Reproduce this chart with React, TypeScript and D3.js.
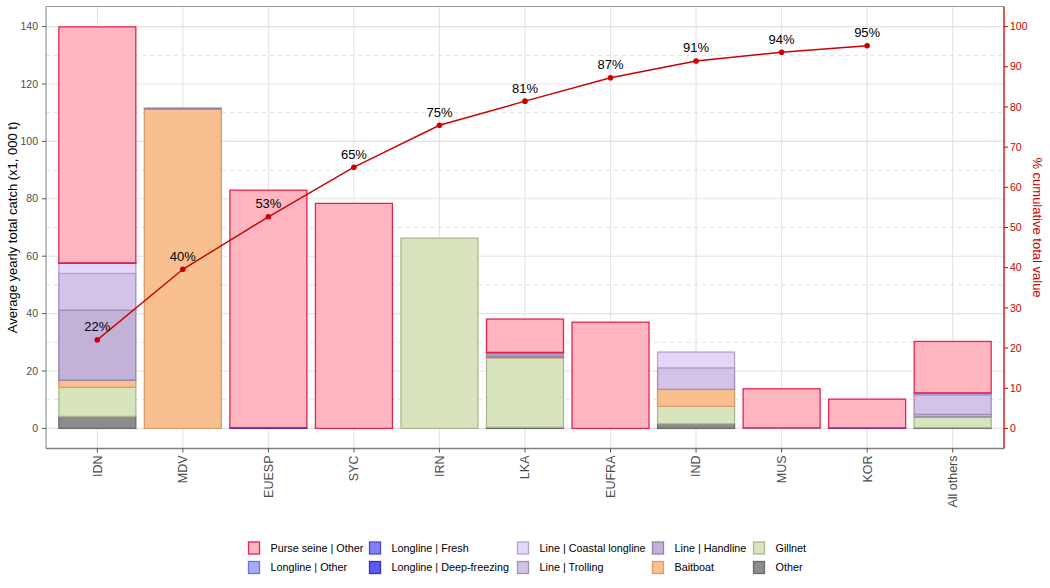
import React from 'react';
import * as d3 from 'd3';

const categories = ['IDN', 'MDV', 'EUESP', 'SYC', 'IRN', 'LKA', 'EUFRA', 'IND', 'MUS', 'KOR', 'All others'];
const gears = [
  'Purse seine | Other',
  'Longline | Other',
  'Longline | Fresh',
  'Longline | Deep-freezing',
  'Line | Coastal longline',
  'Line | Trolling',
  'Line | Handline',
  'Baitboat',
  'Gillnet',
  'Other',
];

// values in x1,000 t per category
const purseSeineOther = [82.2, 0, 82.7, 78.4, 0, 11.6, 37.0, 0, 13.6, 10.0, 17.9];
const longlineOther = [0, 0, 0, 0, 0, 0, 0, 0, 0, 0, 0.3];
const longlineFresh = [0.2, 0, 0, 0, 0, 0.2, 0, 0, 0, 0, 0];
const longlineDeepFreezing = [0, 0, 0.3, 0, 0, 0, 0, 0, 0, 0.2, 0];
const lineCoastalLongline = [3.5, 0, 0, 0, 0, 0.4, 0, 5.5, 0, 0, 0.5];
const lineTrolling = [12.8, 0, 0, 0, 0, 0.6, 0, 7.5, 0, 0, 6.7];
const lineHandline = [24.4, 0.3, 0, 0, 0, 0.5, 0, 0, 0.2, 0, 0.9];
const baitboat = [2.5, 111.3, 0, 0, 0, 0.2, 0, 5.9, 0, 0, 0];
const gillnet = [10.1, 0, 0, 0, 66.3, 24.2, 0, 6.1, 0, 0, 3.7];
const other = [4.2, 0, 0, 0, 0, 0.4, 0, 1.6, 0, 0, 0.3];

const seriesValues = [
  purseSeineOther, longlineOther, longlineFresh, longlineDeepFreezing,
  lineCoastalLongline, lineTrolling, lineHandline, baitboat, gillnet, other,
];

const leftTicks = [0, 20, 40, 60, 80, 100, 120, 140];
const minorTicks = [10, 30, 50, 70, 90, 110, 130];
const rightTicks = [0, 10, 20, 30, 40, 50, 60, 70, 80, 90, 100];

const fills: Record<string, string> = {
  'Purse seine | Other': '#FFB6C1',
  'Longline | Other': '#A6ADFF',
  'Longline | Fresh': '#8181F7',
  'Longline | Deep-freezing': '#5B5BEE',
  'Line | Coastal longline': '#E4D6F7',
  'Line | Trolling': '#D3C3E6',
  'Line | Handline': '#C3B2D8',
  'Baitboat': '#F8C08E',
  'Gillnet': '#D8E4BE',
  'Other': '#8C8C8C',
};
const strokes: Record<string, string> = {
  'Purse seine | Other': '#E2264F',
  'Longline | Other': '#6A72E4',
  'Longline | Fresh': '#4C4CD6',
  'Longline | Deep-freezing': '#3434C0',
  'Line | Coastal longline': '#B3A4CC',
  'Line | Trolling': '#A090BA',
  'Line | Handline': '#9282AA',
  'Baitboat': '#D99D6C',
  'Gillnet': '#A9B98D',
  'Other': '#6A6A6A',
};

const W = 1050;
const H = 588;
const left = 46;
const right = 1004;
const top = 6.5;
const bottom = 448.5;
const FONT = "'Liberation Sans', Arial, Helvetica, sans-serif";
const RED = '#CC0000';

export default function App() {
  const x = d3.scaleLinear().domain([-0.6, categories.length - 1 + 0.6]).range([left, right]);
  const y = d3.scaleLinear().domain([-7, 147]).range([bottom, top]);
  const barW = x(0.9) - x(0);

  const rows = categories.map((c, i) => {
    const o: Record<string, number | string> = { cat: c };
    gears.forEach((g, k) => { o[g] = seriesValues[k][i]; });
    return o;
  });
  const stackKeys = gears.slice().reverse();
  const stacked = d3.stack<any>().keys(stackKeys)(rows as any);

  const totals = categories.map((_, i) => d3.sum(seriesValues, (s) => s[i]));
  const grand = d3.sum(totals);
  const yPct = (p: number) => y(p * 1.4);
  const cum: number[] = [];
  let run = 0;
  for (let i = 0; i < categories.length - 1; i++) {
    run += totals[i];
    cum.push((run / grand) * 100);
  }

  const line = d3.line<number>().x((_, i) => x(i)).y((p) => yPct(p));

  const legendCols = [248, 369, 517, 652, 753];
  const legendRows = [548, 567.5];

  return (
    <div style={{ position: 'absolute', left: 0, top: 0 }}>
      <svg width={W} height={H} style={{ display: 'block', fontFamily: FONT }}>
        <rect x={0} y={0} width={W} height={H} fill="#fff" />
        {/* grid */}
        {minorTicks.map((t) => (
          <line key={'mn' + t} x1={left} x2={right} y1={y(t)} y2={y(t)} stroke="#E0E0E0" strokeWidth={1} strokeDasharray="4,4" />
        ))}
        {leftTicks.map((t) => (
          <line key={'mj' + t} x1={left} x2={right} y1={y(t)} y2={y(t)} stroke="#E3E3E3" strokeWidth={1.1} />
        ))}
        {categories.map((c, i) => (
          <line key={'vg' + c} x1={x(i)} x2={x(i)} y1={top} y2={bottom} stroke="#E3E3E3" strokeWidth={1.1} />
        ))}
        {/* bars */}
        {stacked.map((layer) => (
          <g key={layer.key}>
            {layer.map((d, i) =>
              d[1] - d[0] > 0 ? (
                <rect
                  key={i}
                  x={x(i) - barW / 2}
                  width={barW}
                  y={y(d[1])}
                  height={y(d[0]) - y(d[1])}
                  fill={fills[layer.key]}
                  stroke={strokes[layer.key]}
                  strokeWidth={1.3}
                />
              ) : null
            )}
          </g>
        ))}
        {/* cumulative line */}
        <path d={line(cum) || ''} fill="none" stroke={RED} strokeWidth={1.4} />
        {cum.map((p, i) => (
          <circle key={'pt' + i} cx={x(i)} cy={yPct(p)} r={2.8} fill={RED} />
        ))}
        {cum.map((p, i) => (
          <text key={'lb' + i} x={x(i)} y={yPct(p) - 8.5} textAnchor="middle" fontSize={13} fill="#000">
            {Math.round(p) + '%'}
          </text>
        ))}
        {/* panel border */}
        <line x1={left} x2={right} y1={top} y2={top} stroke="#9A9A9A" strokeWidth={1} />
        <line x1={left} x2={left} y1={top} y2={bottom} stroke="#8A8A8A" strokeWidth={1.1} />
        <line x1={left} x2={right} y1={bottom} y2={bottom} stroke="#808080" strokeWidth={1.3} />
        <line x1={right} x2={right} y1={top} y2={bottom} stroke={RED} strokeWidth={1.3} />
        {/* left axis */}
        {leftTicks.map((t) => (
          <g key={'lt' + t}>
            <line x1={left - 4} x2={left} y1={y(t)} y2={y(t)} stroke="#555" strokeWidth={1} />
            <text x={38} y={y(t)} dy="0.35em" textAnchor="end" fontSize={10.5} fill="#4D4D4D">{t}</text>
          </g>
        ))}
        <text transform={`translate(17,${(top + bottom) / 2}) rotate(-90)`} textAnchor="middle" fontSize={13} fill="#000">
          Average yearly total catch (x1, 000 t)
        </text>
        {/* right axis */}
        {rightTicks.map((t) => (
          <g key={'rt' + t}>
            <line x1={right} x2={right + 4} y1={yPct(t)} y2={yPct(t)} stroke={RED} strokeWidth={1} />
            <text x={right + 6} y={yPct(t)} dy="0.35em" textAnchor="start" fontSize={10.5} fill={RED}>{t}</text>
          </g>
        ))}
        <text transform={`translate(1033,${(top + bottom) / 2}) rotate(90)`} textAnchor="middle" fontSize={13} fill={RED}>
          % cumulative total value
        </text>
        {/* x axis */}
        {categories.map((c, i) => (
          <g key={'xt' + c}>
            <line x1={x(i)} x2={x(i)} y1={bottom} y2={bottom + 4} stroke="#555" strokeWidth={1} />
            <text
              transform={`translate(${x(i)},${bottom + 7}) rotate(-90)`}
              textAnchor="end"
              dy="0.35em"
              fontSize={12.5}
              fill="#4D4D4D"
            >
              {c}
            </text>
          </g>
        ))}
        {/* legend */}
        {gears.map((g, k) => {
          const col = Math.floor(k / 2);
          const row = k % 2;
          const kx = legendCols[col];
          const ky = legendRows[row];
          return (
            <g key={'lg' + g}>
              <rect x={kx + 0.5} y={ky - 6} width={11} height={12} fill={fills[g]} stroke={strokes[g]} strokeWidth={1.3} />
              <text x={kx + 22.5} y={ky} dy="0.35em" fontSize={10.8} fill="#000">{g}</text>
            </g>
          );
        })}
      </svg>
    </div>
  );
}
